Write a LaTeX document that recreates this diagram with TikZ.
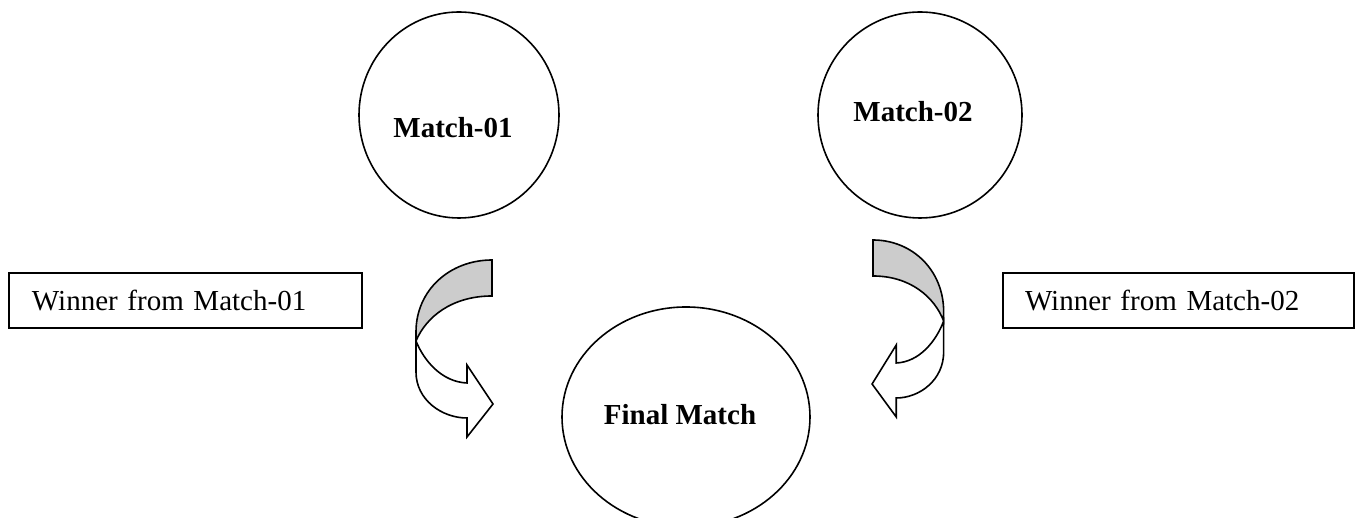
\documentclass[tikz,border=0pt]{standalone}
\usepackage{fontspec}
\setmainfont{Liberation Serif}
\usetikzlibrary{shapes.geometric}
\tikzset{
  matchst/.style={draw, line width=0.8pt, ellipse, inner sep=0pt},
  boxst/.style={draw, line width=0.9pt, rectangle, align=left, text width=153.5pt, minimum height=27.5pt, inner ysep=0pt, font=\fontsize{14.5}{17}\selectfont},
  boldlbl/.style={font=\fontsize{14.5}{17}\selectfont\bfseries, inner sep=0pt},
  bandback/.style={draw, line width=0.8pt, fill=gray!40, line join=miter},
  bandfront/.style={draw, line width=0.8pt, fill=white, line join=miter},
  curvarrow/.pic={
    \draw[bandback] (0,0) .. controls (-42,0) and (-76,-30) .. (-76,-72) -- (-76,-81)
       .. controls (-66,-57) and (-40,-36) .. (0,-36) -- cycle;
    \draw[bandfront] (-76,-81) -- (-76,-112)
       .. controls (-76,-140) and (-50,-158) .. (-25,-158)
       -- (-25,-177) -- (1,-144) -- (-25,-105) -- (-25,-123)
       .. controls (-50,-122) and (-68,-101) .. (-76,-81) -- cycle;
  }
}
\begin{document}
\begin{tikzpicture}[x=0.5pt,y=0.5pt]
\useasboundingbox (0,0) rectangle (1356,518);
\clip (0,0) rectangle (1356,518);
% match circles
\node[matchst, minimum width=100pt, minimum height=103pt] (m1) at (459,403) {};
\node[boldlbl] (m1t) at (453,390) {Match-01};
\node[matchst, minimum width=102pt, minimum height=103pt] (m2) at (920,403) {};
\node[boldlbl] (m2t) at (913,406) {Match-02};
% final
\node[matchst, minimum width=124pt, minimum height=110pt] (fm) at (686,101) {};
\node[boldlbl] (fmt) at (680,103) {Final Match};
% boxes
\node[boxst, inner xsep=11.5pt] (w1) at (185.5,217.5) {Winner from Match-01};
\node[boxst, inner xsep=11pt] (w2) at (1178.5,217.5) {Winner from Match-02};
% curved arrows
\pic at (492,258) {curvarrow};
\pic[xscale=-0.93] at (873,278) {curvarrow};
\end{tikzpicture}
\end{document}
